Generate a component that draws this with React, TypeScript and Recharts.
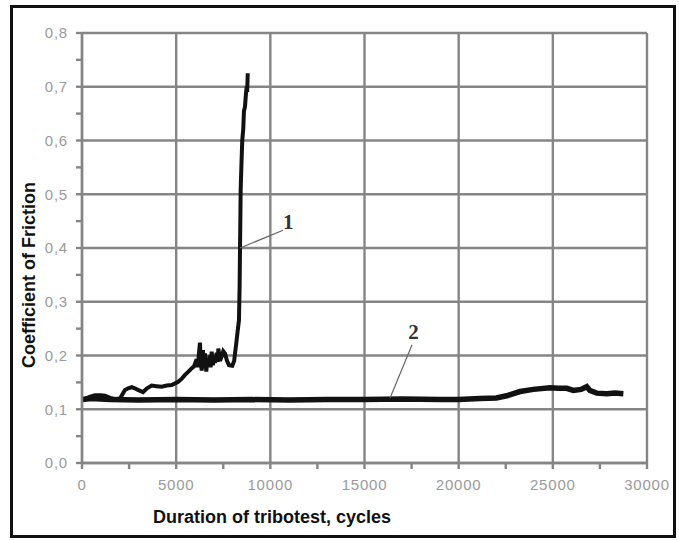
import { LineChart, Line, XAxis, YAxis, CartesianGrid, ReferenceLine, ReferenceDot } from 'recharts';

// curve 1
const cycles1 = [0, 160, 400, 690, 1000, 1220, 1500, 1750, 2020, 2150, 2280, 2450, 2640, 2800, 2970, 3240, 3450, 3700, 3950, 4230, 4500, 4760, 5110, 5300, 5470, 5650, 5820, 5950, 6090, 6150, 6200, 6265, 6300, 6355, 6420, 6480, 6530, 6600, 6650, 6710, 6780, 6830, 6885, 6950, 7000, 7060, 7150, 7200, 7240, 7330, 7415, 7500, 7590, 7700, 7805, 7980, 8080, 8125, 8200, 8250, 8335, 8370, 8390, 8410, 8425, 8470, 8510, 8560, 8600, 8655, 8700, 8745, 8770, 8800];
const friction1 = [0.118, 0.119, 0.123, 0.126, 0.126, 0.125, 0.121, 0.119, 0.12, 0.128, 0.136, 0.139, 0.141, 0.139, 0.136, 0.132, 0.139, 0.144, 0.143, 0.142, 0.144, 0.145, 0.151, 0.157, 0.164, 0.17, 0.176, 0.18, 0.193, 0.178, 0.2, 0.224, 0.19, 0.172, 0.21, 0.176, 0.204, 0.17, 0.195, 0.179, 0.2, 0.178, 0.207, 0.182, 0.198, 0.186, 0.205, 0.188, 0.213, 0.19, 0.198, 0.208, 0.204, 0.19, 0.182, 0.181, 0.19, 0.204, 0.225, 0.241, 0.266, 0.33, 0.4, 0.46, 0.508, 0.56, 0.601, 0.62, 0.655, 0.663, 0.685, 0.7, 0.69, 0.725];

// curve 2
const cycles2 = [0, 500, 1500, 3000, 5000, 7000, 9000, 11000, 13000, 15000, 17000, 19000, 20000, 21130, 22000, 22550, 23260, 23965, 24850, 25300, 25735, 26090, 26500, 26800, 26970, 27330, 27860, 28300, 28745];
const friction2 = [0.118, 0.12, 0.118, 0.117, 0.118, 0.117, 0.118, 0.117, 0.118, 0.118, 0.119, 0.118, 0.118, 0.12, 0.121, 0.125, 0.133, 0.137, 0.14, 0.139, 0.139, 0.135, 0.137, 0.142, 0.135, 0.13, 0.129, 0.13, 0.129];

const xMajor = [0, 5000, 10000, 15000, 20000, 25000, 30000];
const xTicks = [0, 2500, 5000, 7500, 10000, 12500, 15000, 17500, 20000, 22500, 25000, 27500, 30000];
const xMinor = [2500, 7500, 12500, 17500, 22500, 27500];
const yMajor = [0, 0.1, 0.2, 0.3, 0.4, 0.5, 0.6, 0.7, 0.8];
const yTicks = [0, 0.05, 0.1, 0.15, 0.2, 0.25, 0.3, 0.35, 0.4, 0.45, 0.5, 0.55, 0.6, 0.65, 0.7, 0.75, 0.8];
const yMinor = [0.05, 0.15, 0.25, 0.35, 0.45, 0.55, 0.65, 0.75];

const data1 = cycles1.map((x, i) => ({ x, y: friction1[i] }));
const data2 = cycles2.map((x, i) => ({ x, y: friction2[i] }));

const grey = '#858585';
const tickFont = { fontSize: 15, fill: '#9a9a9a', fontFamily: 'Liberation Sans, Arial, sans-serif', letterSpacing: 0.8 };
const numFont = { fontSize: 21, fill: '#333', fontFamily: 'Liberation Serif, serif', fontWeight: 'bold' as const };
const titleStyle = { fontFamily: 'Liberation Sans, Arial, sans-serif', fontWeight: 'bold' as const, fontSize: 18, color: '#111' };

export default function App() {
    return (
        <div style={{ position: 'absolute', left: 0, top: 0, width: 679, height: 540, background: '#fff' }}>
            <div style={{ position: 'absolute', left: 10, top: 5, width: 660, height: 527, border: '3px solid #111' }} />
            <LineChart width={679} height={540} data={data1} margin={{ top: 33, right: 32, left: 0, bottom: 0 }}>
                <CartesianGrid
                    stroke={grey}
                    strokeWidth={2.4}
                    horizontalValues={yMajor}
                    verticalValues={xMajor}
                />
                <XAxis
                    dataKey="x"
                    type="number"
                    domain={[0, 30000]}
                    ticks={xTicks}
                    interval={0}
                    height={77}
                    stroke={grey}
                    strokeWidth={2.4}
                    tickSize={6}
                    tickMargin={10}
                    tick={tickFont}
                    tickFormatter={(v: number) => (v % 5000 === 0 ? String(v) : '')}
                />
                <XAxis
                    xAxisId="top"
                    orientation="top"
                    type="number"
                    domain={[0, 30000]}
                    ticks={xMinor}
                    height={0}
                    mirror
                    axisLine={false}
                    stroke={grey}
                    strokeWidth={2}
                    tickSize={4}
                    tickFormatter={() => ''}
                />
                <YAxis
                    type="number"
                    domain={[0, 0.8]}
                    ticks={yTicks}
                    interval={0}
                    width={82}
                    stroke={grey}
                    strokeWidth={2.4}
                    tickSize={6}
                    tickMargin={8}
                    tick={tickFont}
                    tickFormatter={(v: number) => (Math.round(v * 100) % 10 === 0 ? v.toFixed(1).replace('.', ',') : '')}
                />
                <YAxis
                    yAxisId="right"
                    orientation="right"
                    type="number"
                    domain={[0, 0.8]}
                    ticks={yMinor}
                    width={0}
                    mirror
                    axisLine={false}
                    stroke={grey}
                    strokeWidth={2}
                    tickSize={4}
                    tickFormatter={() => ''}
                />
                <Line data={data2} dataKey="y" type="linear" stroke="#111" strokeWidth={5.5} dot={false} isAnimationActive={false} />
                <Line data={data1} dataKey="y" type="linear" stroke="#111" strokeWidth={4} dot={false} isAnimationActive={false} />
                <ReferenceLine segment={[{ x: 8390, y: 0.4 }, { x: 10675, y: 0.433 }]} stroke="#666" strokeWidth={1.2} />
                <ReferenceLine segment={[{ x: 16357, y: 0.121 }, { x: 17525, y: 0.22 }]} stroke="#666" strokeWidth={1.2} />
                <ReferenceDot x={10950} y={0.45} r={0} stroke="none" fill="none" label={{ value: '1', position: 'center', ...numFont }} />
                <ReferenceDot x={17600} y={0.245} r={0} stroke="none" fill="none" label={{ value: '2', position: 'center', ...numFont }} />
            </LineChart>
            <div style={{ ...titleStyle, position: 'absolute', left: -96, top: 265, width: 250, height: 20, lineHeight: '20px', textAlign: 'center', transform: 'rotate(-90deg)' }}>
                Coefficient of Friction
            </div>
            <div style={{ ...titleStyle, position: 'absolute', left: 153, top: 508, lineHeight: '18px', whiteSpace: 'nowrap' }}>
                Duration of tribotest, cycles
            </div>
        </div>
    );
}
